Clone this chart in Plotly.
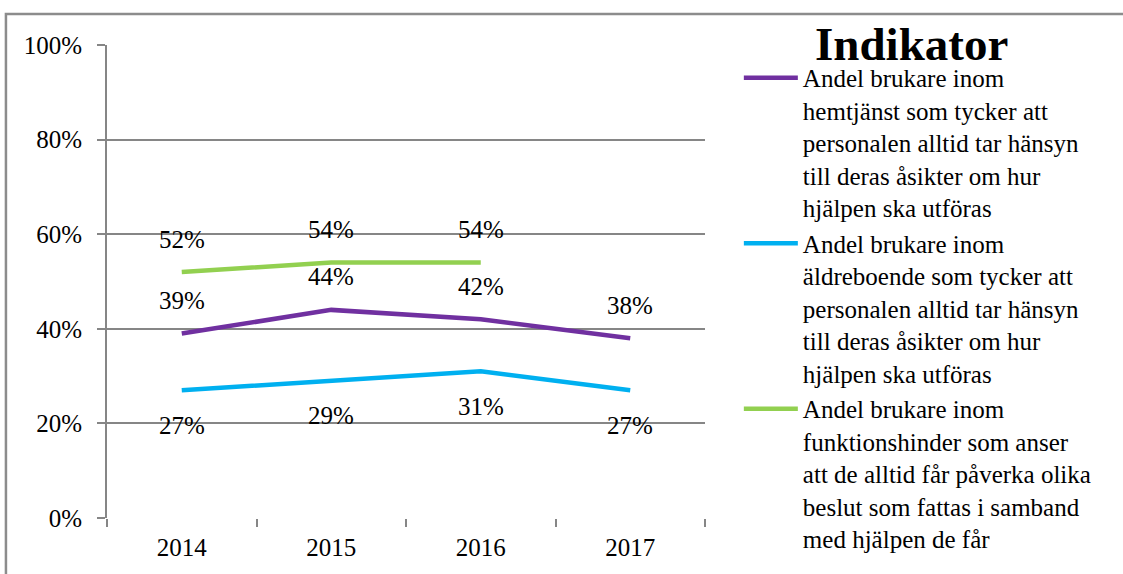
import plotly.graph_objects as go

years = ["2014", "2015", "2016", "2017"]
hemtjanst = [39, 44, 42, 38]
aldreboende = [27, 29, 31, 27]
funktionshinder = [52, 54, 54]
years_f = ["2014", "2015", "2016"]

names = [
    "Andel brukare inom<br>hemtjänst som tycker att<br>personalen alltid tar hänsyn<br>till deras åsikter om hur<br>hjälpen ska utföras",
    "Andel brukare inom<br>äldreboende som tycker att<br>personalen alltid tar hänsyn<br>till deras åsikter om hur<br>hjälpen ska utföras",
    "Andel brukare inom<br>funktionshinder som anser<br>att de alltid får påverka olika<br>beslut som fattas i samband<br>med hjälpen de får",
]
colors = ["#7030A0", "#00B0F0", "#92D050"]
FONT = "Liberation Serif"

fig = go.Figure()
series = [(years, hemtjanst), (years, aldreboende), (years_f, funktionshinder)]
for (xs, ys), nm, c in zip(series, names, colors):
    fig.add_trace(go.Scatter(x=xs, y=ys, name=nm, mode="lines",
                             line=dict(color=c, width=4.5)))

shifts = [33, -35, 33]
for (xs, ys), s in zip(series, shifts):
    for x, y in zip(xs, ys):
        fig.add_annotation(x=years.index(x), y=y, text=f"{y}%", showarrow=False,
                           yshift=s, font=dict(family=FONT, size=25, color="black"))

# legend title
fig.add_annotation(xref="paper", yref="paper", x=1.3445, y=1.0025,
                   xanchor="center", yanchor="middle", showarrow=False,
                   text="<b>Indikator</b>",
                   font=dict(family=FONT, size=47, color="black"))

# outer chart border (top and left visible)
fig.add_shape(type="rect", xref="paper", yref="paper",
              x0=-0.169, x1=1.75, y0=-0.2, y1=1.0655,
              line=dict(color="#8c8c8c", width=2.5), layer="below")

fig.update_layout(
    width=1123, height=574,
    margin=dict(l=107, r=418, t=45, b=56, autoexpand=False),
    paper_bgcolor="white", plot_bgcolor="white",
    font=dict(family=FONT, size=25, color="black"),
    showlegend=True,
    legend=dict(
        x=1.0566, xanchor="left", y=0.979, yanchor="top",
        valign="top", itemwidth=54, maxheight=570,
        font=dict(family=FONT, size=25, color="black"),
        bgcolor="rgba(0,0,0,0)",
    ),
    xaxis=dict(
        type="category", range=[-0.5, 3.5], tickson="boundaries",
        ticks="outside", ticklen=8, tickcolor="#868686", tickwidth=2,
        showgrid=False, showline=False, zeroline=False,
        tickfont=dict(family=FONT, size=25), ticklabelstandoff=12,
    ),
    yaxis=dict(
        range=[0, 100], tickvals=[0, 20, 40, 60, 80, 100],
        ticktext=["0%", "20%", "40%", "60%", "80%", "100%"],
        showgrid=True, gridcolor="#868686", gridwidth=2,
        showline=True, linecolor="#868686", linewidth=2,
        ticks="outside", ticklen=8, tickcolor="#868686", tickwidth=2,
        zeroline=False, tickfont=dict(family=FONT, size=25),
        ticklabelstandoff=10,
    ),
)

fig.write_html("out.html", config={"displayModeBar": False},
               post_script="document.body.style.margin='0';")
